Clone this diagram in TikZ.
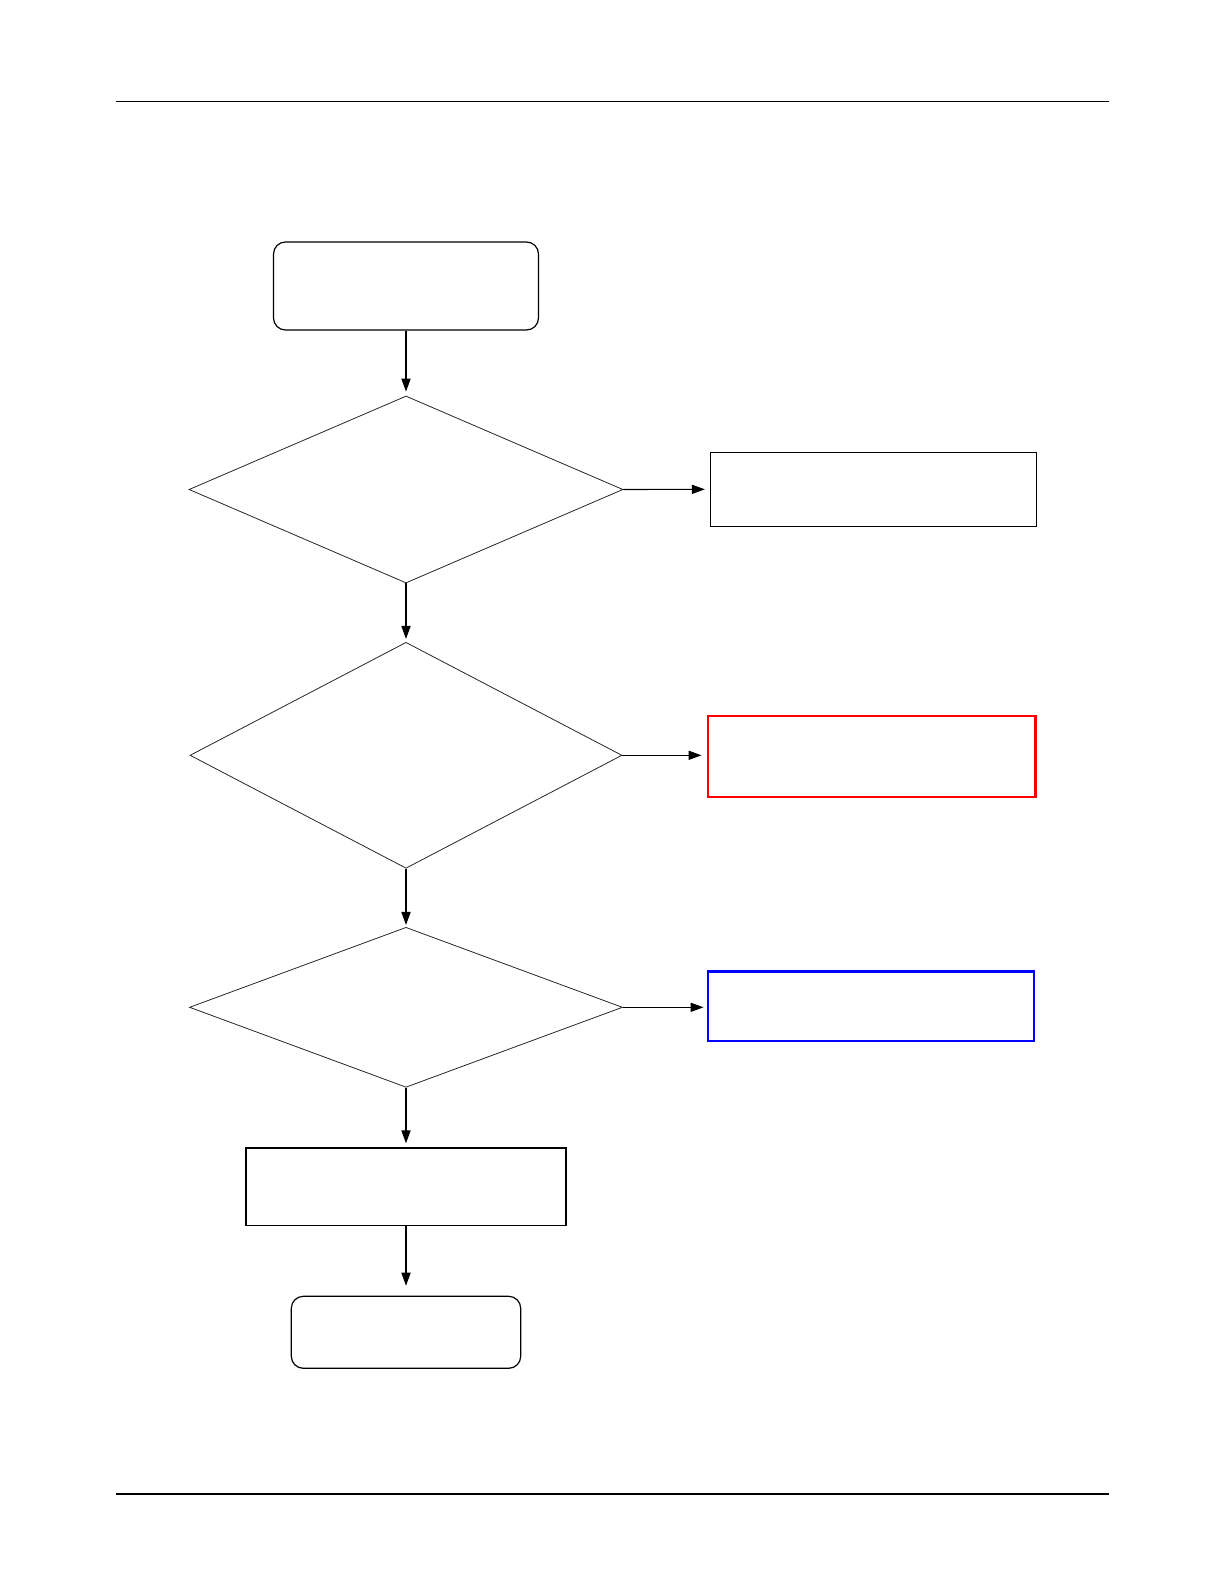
\documentclass[tikz,border=0pt]{standalone}
\usetikzlibrary{shapes.geometric,arrows.meta}
\begin{document}
\begin{tikzpicture}[x=0.5pt,y=-0.5pt,
    term/.style={draw, rounded corners=6pt, line width=0.6pt, inner sep=0pt},
    proc/.style={draw, line width=0.7pt, inner sep=0pt},
    cond/.style={draw, diamond, line width=0.4pt, inner sep=0pt, color=black!85},
    flow/.style={-{Triangle[length=6.5pt,width=4.6pt]}, line width=0.55pt}]
\useasboundingbox (0,0) rectangle (1225,1585);

% page rules
\draw[line width=0.65pt] (115.7,101.3) -- (1109.3,101.3);
\draw[line width=0.65pt] (115.7,1494) -- (1109.3,1494);

% main column
\node[term, minimum width=132.5pt, minimum height=44pt] (start) at (406,286) {};
\node[cond, minimum width=217pt, minimum height=93.5pt] (qa) at (406,489.5) {};
\node[cond, minimum width=216pt, minimum height=113pt] (qb) at (406,755.3) {};
\node[cond, minimum width=216.5pt, minimum height=80pt] (qc) at (406,1007.3) {};
\node[proc, minimum width=160pt, minimum height=38.7pt] (fix) at (406,1186.7) {};
\node[term, minimum width=114.7pt, minimum height=36pt] (done) at (406,1332.3) {};

% side boxes
\node[proc, minimum width=163pt, minimum height=37pt] (sa) at (873.5,489.3) {};
\node[proc, draw=red, line width=1.2pt, minimum width=163.8pt, minimum height=40.5pt] (sb) at (871.5,756.2) {};
\node[proc, draw=blue, line width=1.2pt, minimum width=163pt, minimum height=34.7pt] (sc) at (870.7,1006.3) {};

% connectors
\draw[flow, shorten >=2pt] (start) -- (qa);
\draw[flow, shorten >=1.5pt] (qa) -- (qb);
\draw[flow, shorten >=1pt] (qb) -- (qc);
\draw[flow, shorten >=2pt] (qc) -- (fix);
\draw[flow, shorten >=5pt] (fix) -- (done);
\draw[flow, shorten >=2.5pt] (qa.east) -- (sa.west);
\draw[flow, shorten >=2.5pt] (qb.east) -- (qb.east -| sb.west);
\draw[flow, shorten >=1.5pt] (qc.east) -- (qc.east -| sc.west);
\end{tikzpicture}
\end{document}
